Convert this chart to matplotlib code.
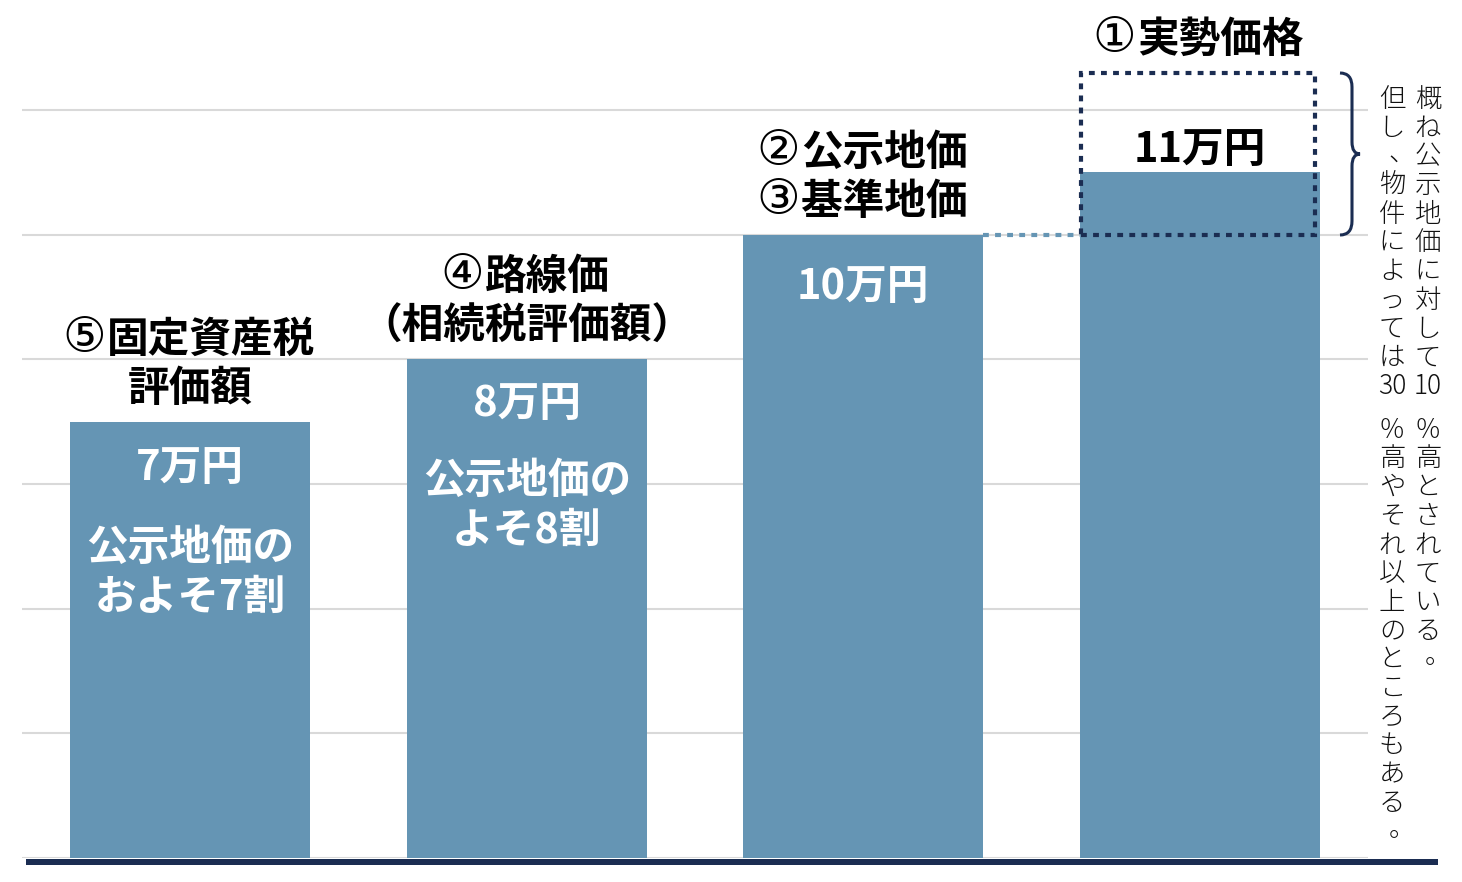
#!/usr/bin/env python3
"""Land price comparison: 実勢価格 vs 公示地価 / 路線価 / 固定資産税評価額"""

import matplotlib.pyplot as plt
from matplotlib.patches import Rectangle, PathPatch
from matplotlib.path import Path

plt.rcParams["font.family"] = ["Noto Sans CJK JP", "DejaVu Sans"]

# --- data -------------------------------------------------------------------
TITLES = [
    ["⑤固定資産税", "評価額"],
    ["④路線価", "（相続税評価額）"],
    ["②公示地価", "③基準地価"],
    ["①実勢価格"],
]
VALUES = [7, 8, 10, 11]                # 万円
VALUE_LABELS = ["7万円", "8万円", "10万円", "11万円"]
RATIO_LABELS = [["公示地価の", "およそ7割"], ["公示地価の", "よそ8割"], [], []]
RANGE_LOW, RANGE_HIGH = 10, 12.6       # 実勢価格 dotted range
NOTE_RIGHT = ["概", "ね", "公", "示", "地", "価", "に", "対", "し", "て", "10",
              "％", "高", "と", "さ", "れ", "て", "い", "る", "。"]
NOTE_LEFT = ["但", "し", "、", "物", "件", "に", "よ", "っ", "て", "は", "30",
             "％", "高", "や", "そ", "れ", "以", "上", "の", "と", "こ", "ろ",
             "も", "あ", "る", "。"]

BAR = "#6595B4"
NAVY = "#1B2D52"
GRID = "#D9D9D9"
CIRCLED = "①②③④⑤"

W, H = 1462, 882
PX = 0.72  # points per pixel at dpi 100
EM = 41.7  # pixel width of one full-width glyph at 30pt

fig = plt.figure(figsize=(W / 100, H / 100), dpi=100)
unit = 62.33
ax = fig.add_axes([22 / W, 24 / H, 1346 / W, 858 / H])
ax.set_xlim(-0.5, 3.5)
ax.set_ylim(0, 858 / unit)
for s in ax.spines.values():
    s.set_visible(False)
ax.set_yticks(range(0, 13, 2))
ax.set_xticks([])
ax.tick_params(length=0, labelleft=False)
ax.yaxis.grid(True, color=GRID, linewidth=1.5)
ax.set_axisbelow(True)

x = list(range(len(VALUES)))
bw = 0.713
ax.bar(x, VALUES, width=bw, color=BAR, zorder=2)

# dotted range box on the last bar
box = Rectangle((3 - bw / 2 + 0.005, RANGE_LOW), bw - 0.02, RANGE_HIGH - RANGE_LOW,
                fill=False, edgecolor=NAVY, linewidth=3, linestyle=(0, (1.4, 1.5)),
                zorder=4, clip_on=False)
ax.add_patch(box)
ax.plot([2 + bw / 2, 3 - bw / 2], [VALUES[2], VALUES[2]], color=BAR, linewidth=3,
        linestyle=(0, (1.4, 1.5)), zorder=3)

# labels above bars (circled number drawn in a lighter outline font)
tops = [VALUES[0], VALUES[1], VALUES[2], RANGE_HIGH]
for i, lines in enumerate(TITLES):
    for j, line in enumerate(reversed(lines)):
        dy = (33 + 49 * j) * PX
        kw = dict(xy=(i, tops[i]), textcoords="offset points", va="center",
                  color="black", annotation_clip=False)
        if line[0] in CIRCLED:
            n = len(line)
            ax.annotate(line[0], xytext=(-(n / 2 - 0.45) * EM * PX, dy + 1.5),
                        ha="center", family=["DejaVu Sans"], fontsize=35,
                        fontweight="normal", **kw)
            ax.annotate(line[1:], xytext=(-(n / 2 - 1) * EM * PX, dy), ha="left",
                        fontsize=30, fontweight="bold", **kw)
        else:
            ax.annotate(line, xytext=(0, dy), ha="center", fontsize=30,
                        fontweight="bold", **kw)

# value labels inside bars
inside_off = [46, 45, 52]
for i in range(3):
    ax.annotate(VALUE_LABELS[i], (i, VALUES[i]), xytext=(0, -inside_off[i] * PX),
                textcoords="offset points", ha="center", va="center",
                fontsize=30, fontweight="bold", color="white")
ax.annotate(VALUE_LABELS[3], (3, VALUES[3]), xytext=(0, 22 * PX),
            textcoords="offset points", ha="center", va="center",
            fontsize=30, fontweight="bold", color="black", zorder=5)
ratio_off = [[126, 176], [122, 171]]
for i, lines in enumerate(RATIO_LABELS):
    for j, line in enumerate(lines):
        ax.annotate(line, (i, VALUES[i]), xytext=(0, -ratio_off[i][j] * PX),
                    textcoords="offset points", ha="center", va="center",
                    fontsize=30, fontweight="bold", color="white")

# pixel overlay for baseline, brace and vertical note
ov = fig.add_axes([0, 0, 1, 1], facecolor="none")
ov.set_xlim(0, W)
ov.set_ylim(H, 0)
ov.axis("off")
ov.plot([26, 1438], [861.5, 861.5], color=NAVY, linewidth=6 * PX,
        solid_capstyle="butt")

bx, by0, by1 = 1340, 73, 235
mid = (by0 + by1) / 2
verts = [(bx, by0), (bx + 12, by0), (bx + 12, by0 + 14),
         (bx + 12, mid - 12), (bx + 12, mid), (bx + 20, mid),
         (bx + 12, mid), (bx + 12, mid + 12),
         (bx + 12, by1 - 14), (bx + 12, by1), (bx, by1)]
codes = [Path.MOVETO, Path.CURVE3, Path.CURVE3, Path.LINETO, Path.CURVE3,
         Path.CURVE3, Path.CURVE3, Path.CURVE3, Path.LINETO, Path.CURVE3, Path.CURVE3]
ov.add_patch(PathPatch(Path(verts, codes), fill=False, edgecolor=NAVY, linewidth=2.2))


def vertical_note(tokens, xc, y0, step=28.7):
    y = y0
    for t in tokens:
        dx, dy = (10, -4) if t in ("、", "。") else (0, 0)
        ov.text(xc + dx, y + dy, t, ha="center", va="center", fontsize=19,
                fontweight="light", color="#111111")
        y += step + (15 if t.isdigit() else 0)


vertical_note(NOTE_RIGHT, 1428, 99)
vertical_note(NOTE_LEFT, 1392, 99)

fig.savefig("out.png", dpi=100)
